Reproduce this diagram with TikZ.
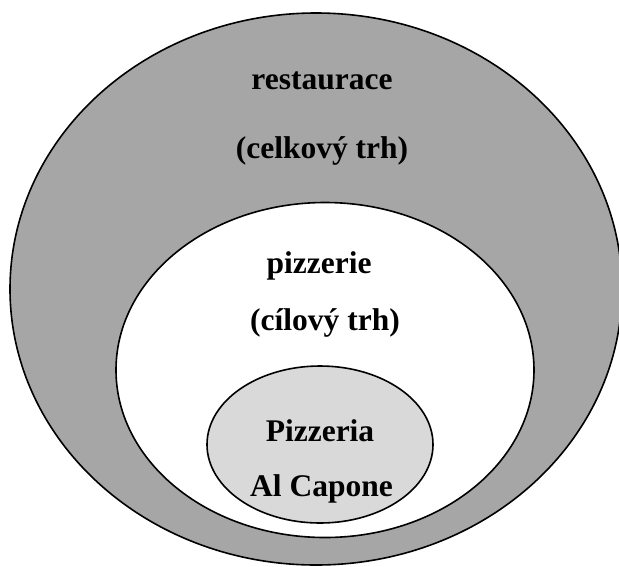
\documentclass[tikz,border=0pt]{standalone}
\usepackage{fontspec}
\setmainfont{Liberation Serif}
\begin{document}
\begin{tikzpicture}[x=1pt,y=-1pt,
  ring/.style={draw=black,line width=1.6pt},
  lbl/.style={font=\fontsize{31.5}{36}\selectfont\bfseries,anchor=base,inner sep=0pt}]
\useasboundingbox (0,0) rectangle (619,566);
\fill[white] (0,0) rectangle (619,566);
\filldraw[ring,fill={rgb,255:red,166;green,166;blue,166}] (316,289) ellipse [x radius=306, y radius=276];
\filldraw[ring,fill=white] (325,370) ellipse [x radius=209, y radius=167.5];
\filldraw[ring,fill={rgb,255:red,217;green,217;blue,217}] (320,444.5) ellipse [x radius=113, y radius=78.5];
\node[lbl] (t1) at (322,89) {restaurace};
\node[lbl] (t2) at (322,158) {(celkový trh)};
\node[lbl] (t3) at (319,273) {pizzerie};
\node[lbl] (t4) at (325,330) {(cílový trh)};
\node[lbl] (t5) at (320,441) {Pizzeria};
\node[lbl] (t6) at (321.5,496) {Al Capone};
\end{tikzpicture}
\end{document}
